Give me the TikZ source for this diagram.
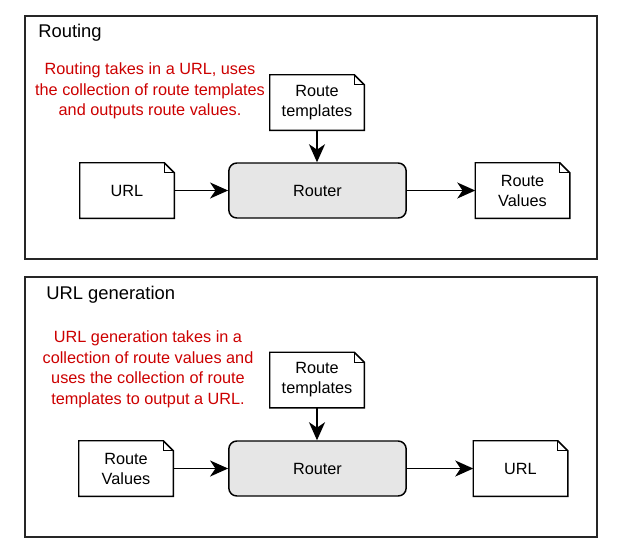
\documentclass[tikz,border=0pt]{standalone}
\usepackage{fontspec}
\setmainfont{Liberation Sans}
\usetikzlibrary{arrows.meta}
\definecolor{notered}{RGB}{204,0,0}
\definecolor{routerfill}{RGB}{230,230,230}
\begin{document}
\begin{tikzpicture}[x=0.75pt,y=-0.75pt,
  frame/.style={draw=black!85, line width=1.3pt},
  title/.style={anchor=west, font=\fontsize{13.8}{16}\selectfont, inner sep=0pt},
  note/.style={text=notered, align=center, font=\fontsize{12.2}{15.4}\selectfont, inner sep=0pt},
  doc/.style={minimum width=70.5pt, minimum height=41.25pt, inner sep=0pt, align=center, font=\fontsize{12.2}{15}\selectfont},
  router/.style={draw, line width=1.1pt, fill=routerfill, rounded corners=6pt, minimum width=133pt, minimum height=41.25pt, inner sep=0pt, font=\fontsize{12.2}{15}\selectfont},
  docline/.style={draw, line width=1.1pt, line join=miter},
  flow/.style={line width=1.2pt, -{Stealth[length=13.5pt,width=12pt,inset=4pt]}}
]
\newcommand{\drawdoc}[1]{%
  \draw[docline] (#1.north west) -- ([xshift=-7.5pt]#1.north east) -- ([yshift=-7.5pt]#1.north east) -- (#1.south east) -- (#1.south west) -- cycle;
  \draw[line width=0.8pt] ([xshift=-7.5pt]#1.north east) -- ([xshift=-7.5pt,yshift=-7.5pt]#1.north east) -- ([yshift=-7.5pt]#1.north east);
}
\useasboundingbox (0,0) rectangle (624,544);
% ---------- Routing ----------
\draw[frame] (25,16) rectangle (597,259);
\node[title] (t1) at (38,33) {Routing};
\node[note] (n1) at (150,91) {Routing takes in a URL, uses\\the collection of route templates\\and outputs route values.};
\node[doc] (rt1) at (317,102.5) {Route\\templates};
\node[router] (r1) at (317.5,190.5) {Router};
\node[doc] (u1) at (127,190.5) {URL};
\node[doc] (rv1) at (522.5,190.5) {Route\\Values};
\drawdoc{rt1}\drawdoc{u1}\drawdoc{rv1}
\draw[flow] (u1) -- (r1);
\draw[flow] (r1) -- (rv1);
\draw[flow] (rt1) -- (rt1 |- r1.north);
% ---------- URL generation ----------
\draw[frame] (25,277) rectangle (597,537);
\node[title] (t2) at (46,295) {URL generation};
\node[note] (n2) at (148,369.5) {URL generation takes in a\\collection of route values and\\uses the collection of route\\templates to output a URL.};
\node[doc] (rt2) at (317,380) {Route\\templates};
\node[router] (r2) at (317.5,468.5) {Router};
\node[doc] (rv2) at (126,468.5) {Route\\Values};
\node[doc] (u2) at (520.5,468.5) {URL};
\drawdoc{rt2}\drawdoc{rv2}\drawdoc{u2}
\draw[flow] (rv2) -- (r2);
\draw[flow] (r2) -- (u2);
\draw[flow] (rt2) -- (rt2 |- r2.north);
\end{tikzpicture}
\end{document}
